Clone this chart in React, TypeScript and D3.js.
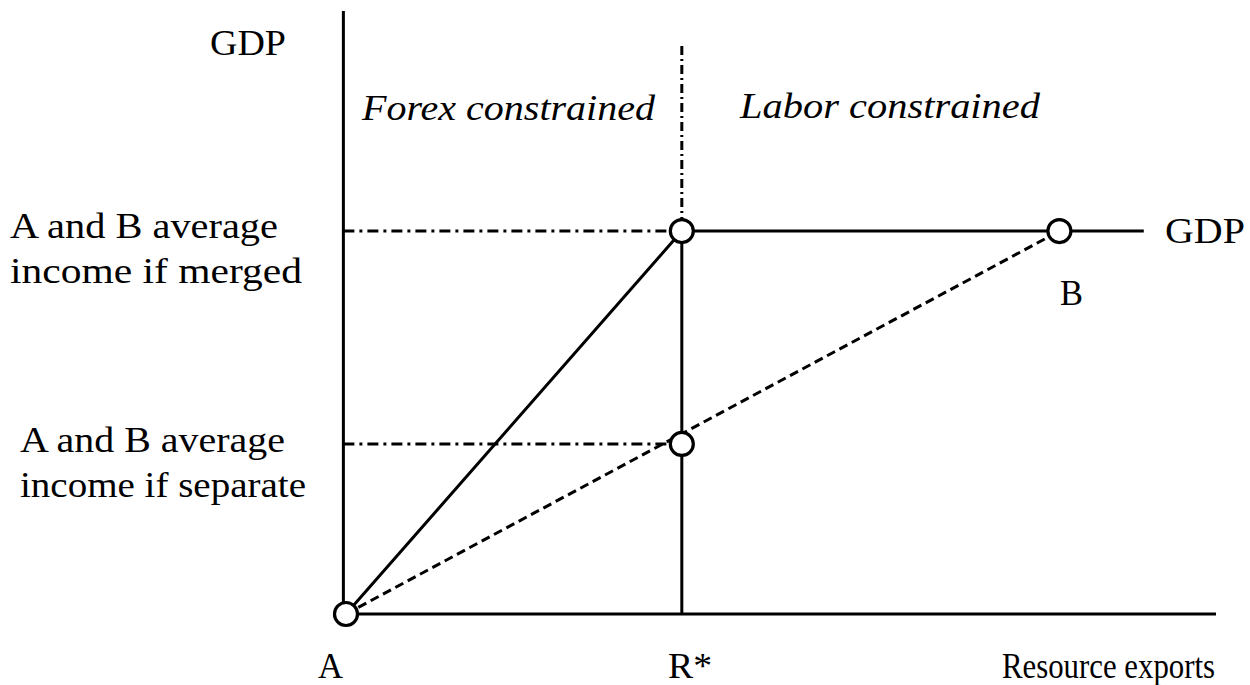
import React from "react";
import * as d3 from "d3";

// Schematic values (domain units, 0..1 on each axis)
const rStar = 0.386; // R*
const bExports = 0.82; // country B resource exports
const gdpEnd = 0.917; // end of GDP plateau line
const gdpMerged = 0.635; // GDP ceiling / merged average income
const avgSeparate = 0.282; // average income if separate
const dividerTop = 0.942; // top of regime divider

const regionLabels = ["Forex constrained", "Labor constrained"];
const yLabelsMerged = ["A and B average", "income if merged"];
const yLabelsSeparate = ["A and B average", "income if separate"];
const pointLabels = ["A", "B", "R*"];
const axisTitles = ["GDP", "Resource exports"];

const W = 1250;
const H = 685;

export default function App() {
  const x = d3.scaleLinear().domain([0, 1]).range([346, 1216]);
  const y = d3.scaleLinear().domain([0, 1]).range([614, 11]);
  const line = d3
    .line<[number, number]>()
    .x((d) => x(d[0]))
    .y((d) => y(d[1]));

  const fs = 35;
  const T = (
    txt: string,
    px: number,
    py: number,
    len: number,
    italic = false
  ) => (
    <text
      x={px}
      y={py}
      style={{
        fontFamily: "'Liberation Serif', 'Times New Roman', Times, serif",
        fontSize: fs + "px",
        fontStyle: italic ? "italic" : "normal",
      }}
      textLength={len}
      lengthAdjust="spacingAndGlyphs"
      fill="#000"
    >
      {txt}
    </text>
  );

  const sw = 3;
  const circles: [number, number][] = [
    [0, 0],
    [rStar, gdpMerged],
    [rStar, avgSeparate],
    [bExports, gdpMerged],
  ];

  return (
    <svg
      width={W}
      height={H}
      style={{ position: "absolute", left: 0, top: 0, background: "#fff" }}
    >
      <rect x={0} y={0} width={W} height={H} fill="#fff" />
      {/* axes */}
      <path d={line([[-0.003, 1], [-0.003, 0]]) as string} stroke="#000" strokeWidth={3} fill="none" />
      <path d={line([[-0.003, 0], [1, 0]]) as string} stroke="#000" strokeWidth={3} fill="none" />

      {/* dash-dot guides */}
      <path
        d={line([[-0.003, gdpMerged], [rStar, gdpMerged]]) as string}
        stroke="#000"
        strokeWidth={3}
        strokeDasharray="11,5,3,5"
        fill="none"
      />
      <path
        d={line([[-0.003, avgSeparate], [rStar, avgSeparate]]) as string}
        stroke="#000"
        strokeWidth={3}
        strokeDasharray="11,5,3,5"
        fill="none"
      />
      <path
        d={line([[rStar, dividerTop], [rStar, gdpMerged]]) as string}
        stroke="#000"
        strokeWidth={3}
        strokeDasharray="9,4,2,4"
        fill="none"
      />

      {/* R* vertical solid */}
      <path d={line([[rStar, gdpMerged], [rStar, 0]]) as string} stroke="#000" strokeWidth={sw} fill="none" />
      {/* GDP frontier */}
      <path
        d={line([[0, 0], [rStar, gdpMerged], [gdpEnd, gdpMerged]]) as string}
        stroke="#000"
        strokeWidth={sw}
        fill="none"
      />
      {/* A to B dashed */}
      <path
        d={line([[0, 0], [bExports, gdpMerged]]) as string}
        stroke="#000"
        strokeWidth={3}
        strokeDasharray="9,5"
        fill="none"
      />

      {circles.map((c, i) => (
        <circle key={i} cx={x(c[0])} cy={y(c[1])} r={11.5} fill="#fff" stroke="#000" strokeWidth={3.2} />
      ))}

      {/* texts */}
      {T(axisTitles[0], 210, 55, 76)}
      {T(regionLabels[0], 362, 120, 293, true)}
      {T(regionLabels[1], 740, 118, 300, true)}
      {T(yLabelsMerged[0], 10, 238, 268)}
      {T(yLabelsMerged[1], 10, 283, 292)}
      {T(axisTitles[0], 1165, 243, 80)}
      {T(pointLabels[1], 1060, 305, 23)}
      {T(yLabelsSeparate[0], 20, 452, 265)}
      {T(yLabelsSeparate[1], 20, 497, 286)}
      {T(pointLabels[0], 318, 678, 25)}
      {T(pointLabels[2], 668, 678, 44)}
      {T(axisTitles[1], 1002, 678, 213)}
    </svg>
  );
}
